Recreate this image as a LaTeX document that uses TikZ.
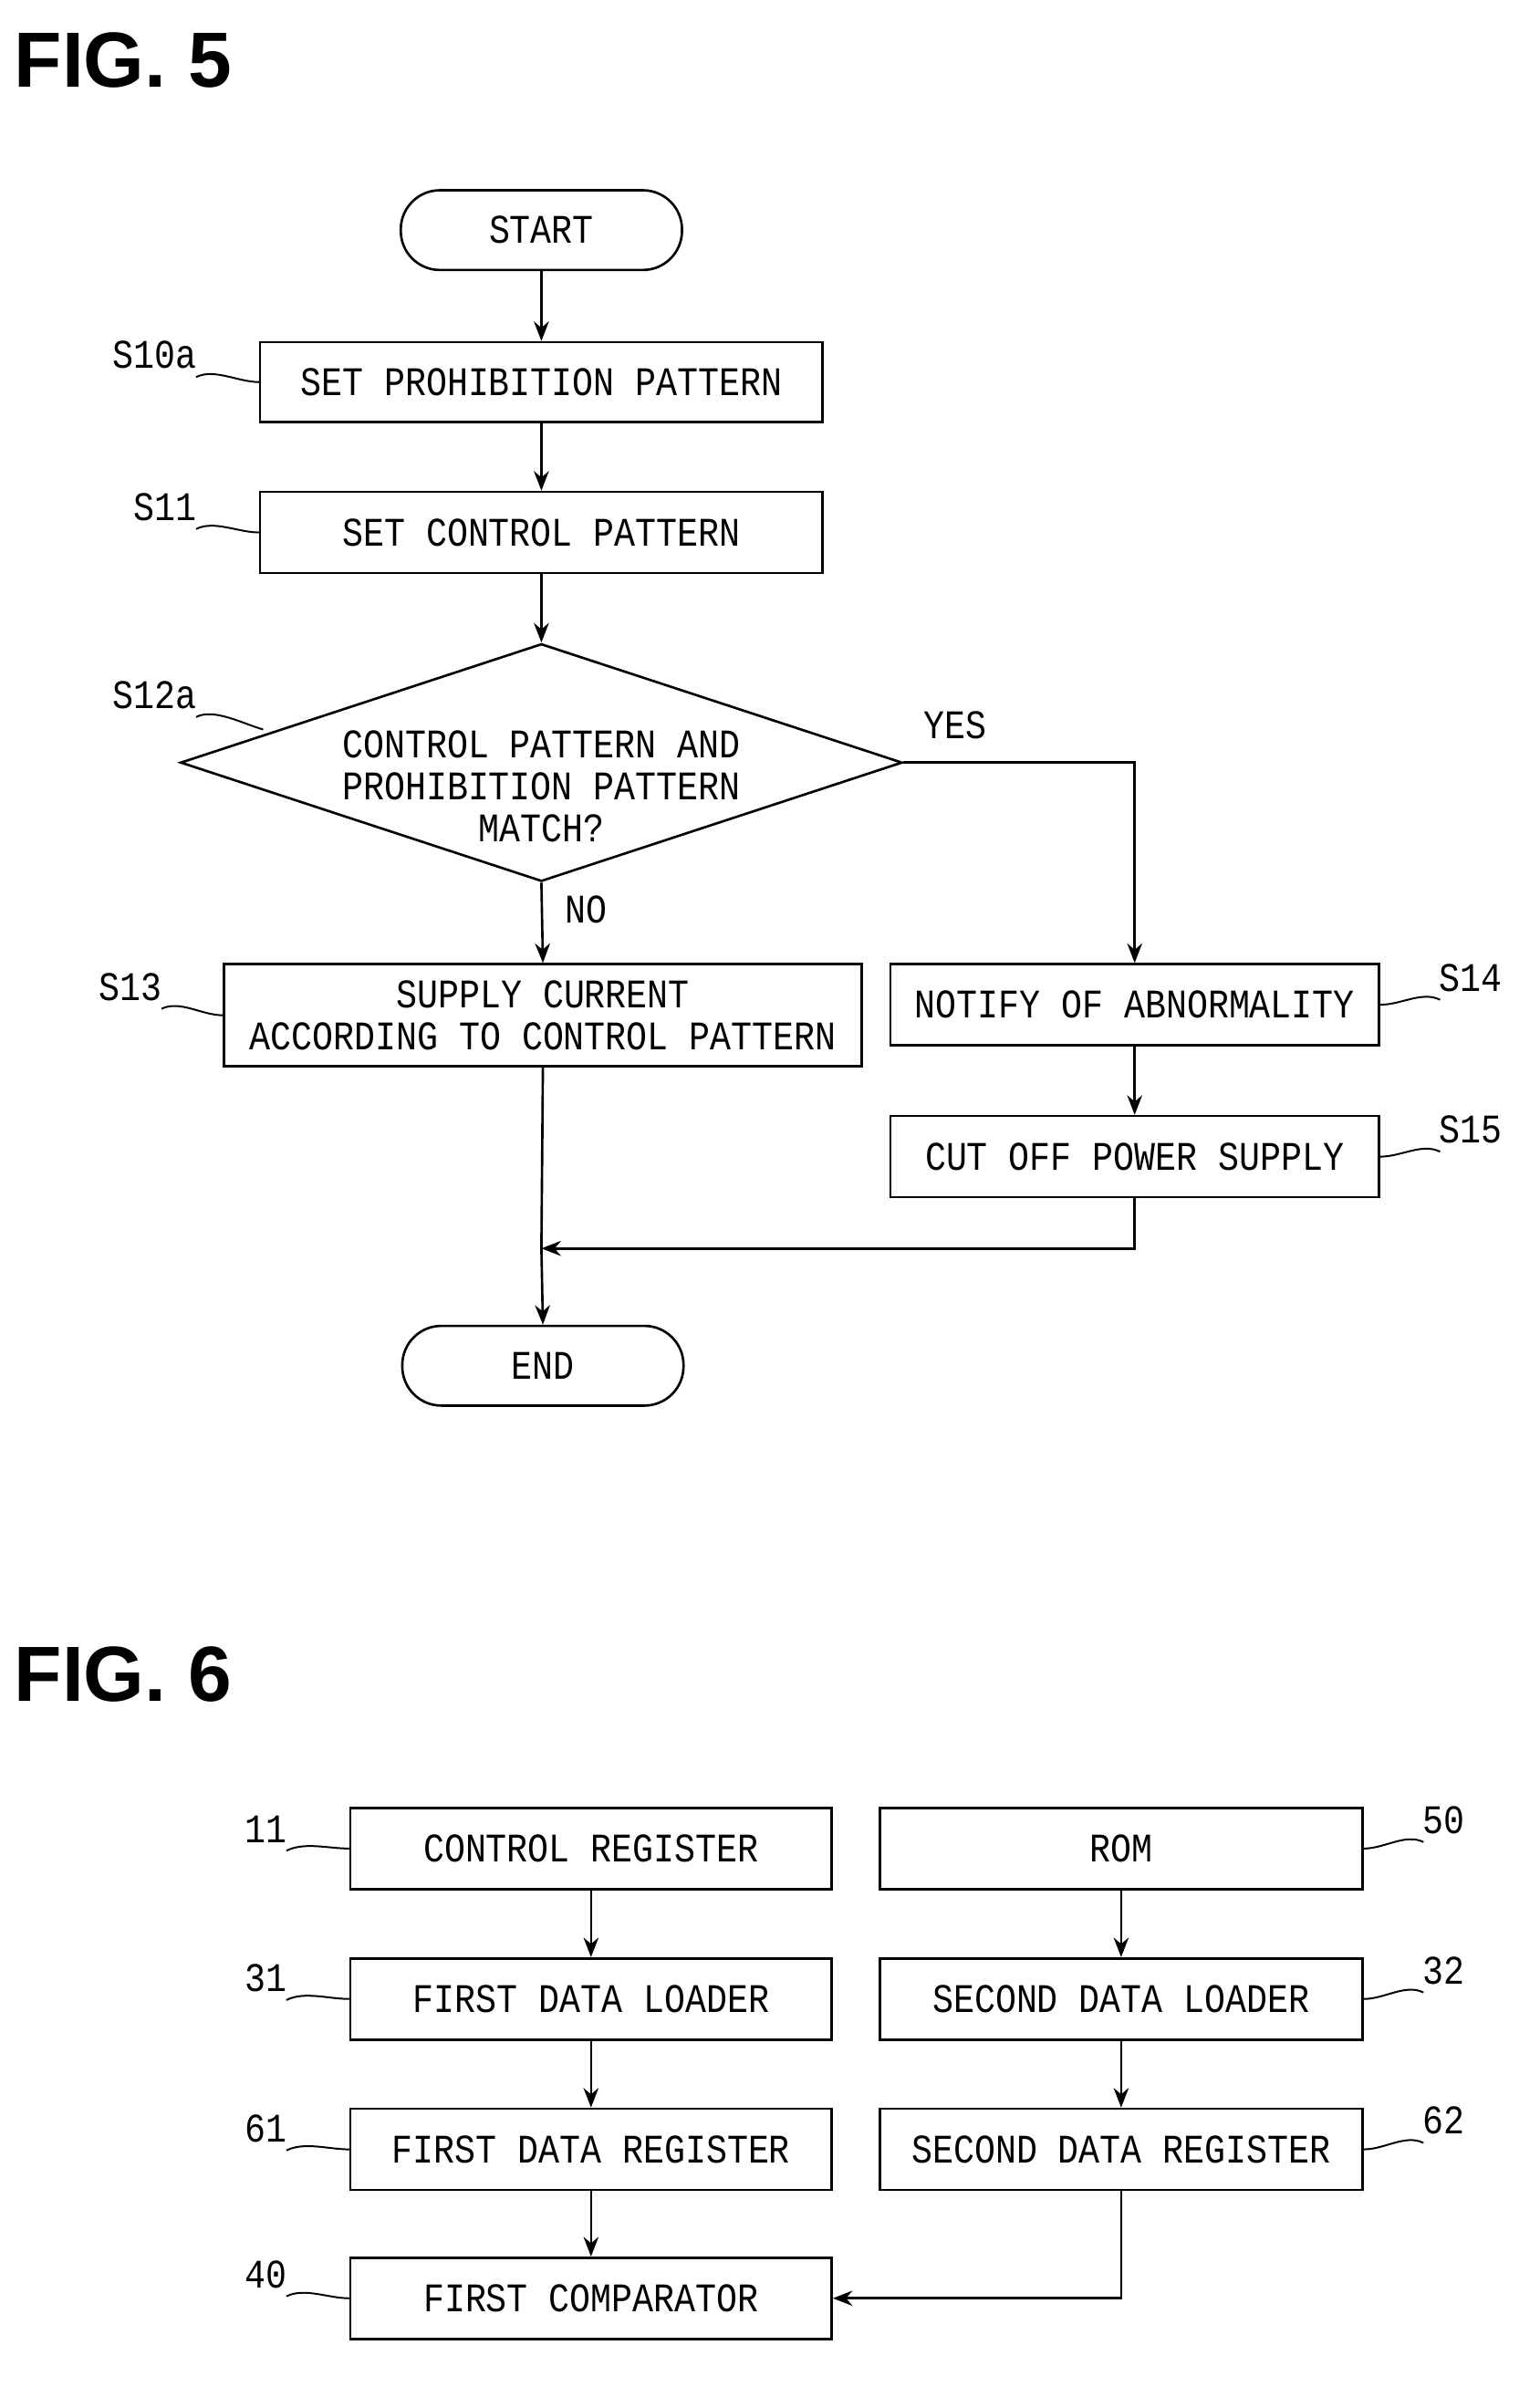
\documentclass[tikz,border=0pt]{standalone}
\usepackage{fontspec}
\setmainfont{Liberation Mono}[FakeStretch=0.86]
\newfontfamily\figfont{Liberation Sans}
\usetikzlibrary{shapes.geometric,arrows.meta}
\begin{document}
\begin{tikzpicture}[x=1pt,y=-1pt,
  box/.style={draw,line width=1.6pt,font=\fontsize{27}{28}\selectfont,align=center,inner sep=0pt},
  term/.style={draw,line width=1.6pt,rounded corners=26pt,minimum width=187pt,minimum height=53pt,font=\fontsize{27}{28}\selectfont},
  lab/.style={font=\fontsize{27}{28}\selectfont},
  arr/.style={line width=1.6pt,-{Stealth[length=13pt,width=10pt]}},
  ln/.style={line width=1.6pt},
  sq/.style={line width=1.2pt},
  fig/.style={font=\figfont\bfseries\fontsize{52}{54}\selectfont,anchor=west}]
\useasboundingbox (0,0) rectangle (1024,1587);
\node[fig] (f5) at (6,40) {FIG. 5};
\node[term] (start) at (360,153) {START};
\node[box,minimum width=374pt,minimum height=53pt] (s10) at (360,254) {SET PROHIBITION PATTERN};
\node[box,minimum width=374pt,minimum height=54pt] (s11) at (360,354) {SET CONTROL PATTERN};
\node[draw,line width=1.6pt,diamond,aspect=3.04,minimum width=480pt,minimum height=158pt,inner sep=0pt] (s12) at (360,507) {};
\node[font=\fontsize{27}{28}\selectfont,align=center] (s12t) at (360,523) {CONTROL PATTERN AND\\PROHIBITION PATTERN\\MATCH?};
\node[box,minimum width=424pt,minimum height=68pt] (s13) at (361,675) {SUPPLY CURRENT\\ACCORDING TO CONTROL PATTERN};
\node[box,minimum width=325pt,minimum height=54pt] (s14) at (754.5,668) {NOTIFY OF ABNORMALITY};
\node[box,minimum width=325pt,minimum height=54pt] (s15) at (754.5,769) {CUT OFF POWER SUPPLY};
\node[term] (end) at (361,908) {END};
\node[lab] (yes) at (635,482) {YES};
\node[lab] (no) at (390,605) {NO};
\node[lab] (l10) at (103,236) {S10a};
\node[lab] (l11) at (110,337) {S11};
\node[lab] (l12) at (103,462) {S12a};
\node[lab] (l13) at (87,656) {S13};
\node[lab] (l14) at (978,650) {S14};
\node[lab] (l15) at (978,751) {S15};
\draw[arr] (start) -- (s10);
\draw[arr] (s10) -- (s11);
\draw[arr] (s11) -- (s12);
\draw[arr] (s12.south) -- (s13.north);
\draw[arr] (s12.east) -| (s14.north);
\draw[arr] (s14) -- (s15);
\coordinate (j) at (360,830);
\draw[ln] (s13.south) -- (j);
\draw[arr] (j) -- (end.north);
\draw[arr] (s15.south) |- (j);
\draw[sq] (l10.south east) ++(-4,2) .. controls +(12,-6) and +(-14,0) .. (s10.west);
\draw[sq] (l11.south east) ++(-4,2) .. controls +(12,-6) and +(-14,0) .. (s11.west);
\draw[sq] (l12.south east) ++(-4,2) .. controls +(12,-6) and +(-14,-4) .. (175,485);
\draw[sq] (l13.south east) ++(-4,2) .. controls +(12,-6) and +(-14,0) .. (s13.west);
\draw[sq] (l14.south west) ++(4,2) .. controls +(-12,-6) and +(14,0) .. (s14.east);
\draw[sq] (l15.south west) ++(4,2) .. controls +(-12,-6) and +(14,0) .. (s15.east);
%
\node[fig] (f6) at (6,1113) {FIG. 6};
\tikzset{b6/.style={box,minimum width=320pt,minimum height=54pt}}
\node[b6] (c11) at (393,1229) {CONTROL REGISTER};
\node[b6] (c31) at (393,1329) {FIRST DATA LOADER};
\node[b6] (c61) at (393,1429) {FIRST DATA REGISTER};
\node[b6] (c40) at (393,1528) {FIRST COMPARATOR};
\node[b6,minimum width=321pt] (c50) at (745.5,1229) {ROM};
\node[b6,minimum width=321pt] (c32) at (745.5,1329) {SECOND DATA LOADER};
\node[b6,minimum width=321pt] (c62) at (745.5,1429) {SECOND DATA REGISTER};
\draw[arr] (c11) -- (c31);
\draw[arr] (c31) -- (c61);
\draw[arr] (c61) -- (c40);
\draw[arr] (c50) -- (c32);
\draw[arr] (c32) -- (c62);
\draw[arr] (c62.south) |- (c40.east);
\node[lab] (n11) at (177,1216) {11};
\node[lab] (n31) at (177,1315) {31};
\node[lab] (n61) at (177,1415) {61};
\node[lab] (n40) at (177,1512) {40};
\node[lab] (n50) at (960,1210) {50};
\node[lab] (n32) at (960,1310) {32};
\node[lab] (n62) at (960,1410) {62};
\foreach \a/\b in {n11/c11,n31/c31,n61/c61,n40/c40}
  \draw[sq] (\a.south east) ++(-4,2) .. controls +(12,-6) and +(-14,0) .. (\b.west);
\foreach \a/\b in {n50/c50,n32/c32,n62/c62}
  \draw[sq] (\a.south west) ++(4,2) .. controls +(-12,-6) and +(14,0) .. (\b.east);
\end{tikzpicture}
\end{document}
